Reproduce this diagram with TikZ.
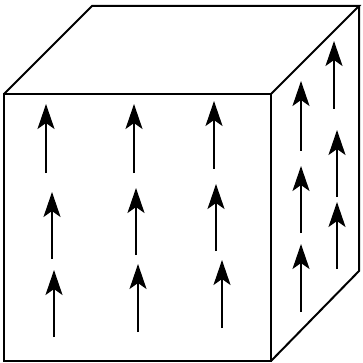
\documentclass[tikz,border=0pt]{standalone}
\usetikzlibrary{arrows.meta}
\tikzset{
  cubeedge/.style={line width=2pt,line join=miter},
  vecarrow/.style={line width=2pt,-{Stealth[length=25pt,width=17pt,inset=6pt]}}
}
\begin{document}
\begin{tikzpicture}
\useasboundingbox (0pt,0pt) rectangle (362pt,-363pt);
% cube corners
\coordinate (FTL) at (4pt,-94pt);
\coordinate (FTR) at (271pt,-94pt);
\coordinate (FBR) at (271pt,-361pt);
\coordinate (FBL) at (4pt,-361pt);
\coordinate (BTL) at (92pt,-6pt);
\coordinate (BTR) at (359pt,-6pt);
\coordinate (BBR) at (359pt,-271pt);
\draw[cubeedge] (FTL) -- (FTR) -- (FBR) -- (FBL) -- cycle;
\draw[cubeedge] (FTL) -- (BTL) -- (BTR) -- (FTR);
\draw[cubeedge] (BTR) -- (BBR) -- (FBR);
% arrows
\foreach \n/\x/\t/\h in {a1/46/173/104, a2/52/259/192, a3/54/337/270,
                         b1/134/173/104, b2/136/255/188, b3/138/332/264,
                         c1/214/169/101, c2/216/251/184, c3/222/328/260,
                         d1/301/151/81, d2/301/233/166, d3/301/312/244,
                         e1/334/109/41, e2/337/197/130, e3/337/269/202}{
  \coordinate (\n t) at (\x pt,-\t pt);
  \coordinate (\n h) at (\x pt,-\h pt);
  \draw[vecarrow] (\n t) -- (\n h);
}
\end{tikzpicture}
\end{document}
